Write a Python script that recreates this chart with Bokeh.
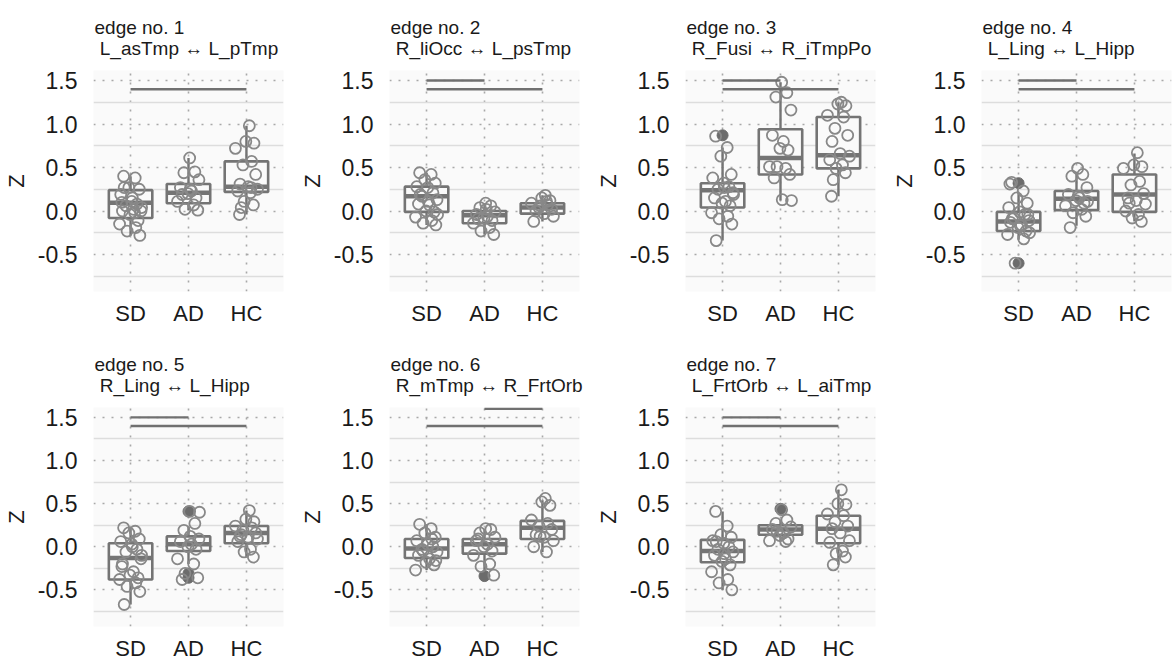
from bokeh.plotting import figure
from bokeh.models import ColumnDataSource, FixedTicker, NumeralTickFormatter, Range1d
from bokeh.layouts import column, row
from bokeh.embed import file_html
from bokeh.resources import INLINE

GROUPS = ["SD", "AD", "HC"]
TITLES = [
    ("edge no. 1", "L_asTmp \u2194 L_pTmp"),
    ("edge no. 2", "R_liOcc \u2194 L_psTmp"),
    ("edge no. 3", "R_Fusi \u2194 R_iTmpPo"),
    ("edge no. 4", "L_Ling \u2194 L_Hipp"),
    ("edge no. 5", "R_Ling \u2194 L_Hipp"),
    ("edge no. 6", "R_mTmp \u2194 R_FrtOrb"),
    ("edge no. 7", "L_FrtOrb \u2194 L_aiTmp"),
]
Y_TICKS = [-0.5, 0.0, 0.5, 1.0, 1.5]
Y_MINOR = [-0.75, -0.25, 0.25, 0.75, 1.25]

# jittered points per edge and group
PTS_SD = [
    [0.40, 0.38, 0.27, 0.25, 0.19, 0.11, 0.08, 0.06, 0.00, 0.00, 0.02, -0.04, -0.11, -0.15, -0.19, -0.23, -0.28, 0.27, 0.15, 0.04, 0.10, -0.02],
    [0.44, 0.42, 0.36, 0.32, 0.28, 0.27, 0.21, 0.17, 0.13, 0.08, 0.07, 0.00, -0.01, -0.07, -0.11, -0.14, -0.16, 0.19, 0.11, -0.04],
    [0.86, 0.73, 0.63, 0.42, 0.38, 0.32, 0.28, 0.25, 0.21, 0.15, 0.11, 0.09, 0.06, -0.02, -0.06, -0.09, -0.15, -0.34, 0.27, 0.19],
    [0.33, 0.23, 0.15, 0.09, 0.04, -0.01, -0.04, -0.08, -0.11, -0.13, -0.16, -0.19, -0.23, -0.27, -0.32, -0.60, -0.04, -0.09, -0.17, -0.25, 0.31],
    [0.22, 0.18, 0.16, 0.09, 0.06, 0.03, -0.03, -0.06, -0.14, -0.20, -0.29, -0.33, -0.36, -0.38, -0.42, -0.46, -0.52, -0.67, 0.00, -0.10, -0.23],
    [0.26, 0.21, 0.16, 0.11, 0.07, 0.03, 0.00, -0.03, -0.06, -0.10, -0.14, -0.18, -0.21, -0.27, 0.09, -0.05, -0.16],
    [0.41, 0.24, 0.14, 0.11, 0.07, 0.04, 0.00, -0.03, -0.06, -0.10, -0.14, -0.17, -0.21, -0.29, -0.38, -0.42, -0.50, 0.06, -0.08],
]
PTS_AD = [
    [0.61, 0.45, 0.44, 0.36, 0.27, 0.23, 0.20, 0.15, 0.11, 0.07, 0.02, 0.01, 0.19, 0.25],
    [0.09, 0.06, 0.04, -0.01, -0.04, -0.06, -0.08, -0.11, -0.14, -0.19, -0.23, -0.27, -0.09, 0.02],
    [1.48, 1.36, 1.31, 1.16, 0.87, 0.80, 0.72, 0.70, 0.51, 0.49, 0.51, 0.42, 0.38, 0.13, 0.12],
    [0.49, 0.42, 0.40, 0.27, 0.19, 0.15, 0.12, 0.09, 0.06, 0.02, -0.02, -0.06, -0.19, 0.17, 0.11],
    [0.41, 0.27, 0.19, 0.09, 0.06, 0.03, 0.00, -0.03, -0.14, -0.20, -0.31, -0.36, -0.38, 0.12, 0.40],
    [0.21, 0.20, 0.16, 0.11, 0.07, 0.03, 0.00, -0.05, -0.10, -0.20, -0.23, -0.33, 0.09],
    [0.43, 0.31, 0.27, 0.23, 0.20, 0.16, 0.13, 0.09, 0.07, 0.06, 0.18],
]
PTS_HC = [
    [0.98, 0.80, 0.78, 0.72, 0.57, 0.53, 0.42, 0.31, 0.28, 0.25, 0.23, 0.21, 0.11, 0.07, 0.04, -0.04, 0.27],
    [0.18, 0.15, 0.12, 0.09, 0.07, 0.04, 0.02, 0.00, -0.03, -0.06, -0.12, 0.11, 0.06],
    [1.25, 1.23, 1.21, 1.10, 1.08, 0.95, 0.87, 0.80, 0.66, 0.63, 0.59, 0.53, 0.49, 0.44, 0.36, 0.17],
    [0.67, 0.53, 0.51, 0.49, 0.34, 0.30, 0.20, 0.15, 0.12, 0.08, 0.00, -0.04, -0.08, -0.12, 0.09],
    [0.42, 0.32, 0.29, 0.24, 0.22, 0.19, 0.16, 0.12, 0.11, 0.09, 0.06, -0.03, -0.06, -0.12, 0.14],
    [0.56, 0.52, 0.48, 0.31, 0.27, 0.24, 0.20, 0.14, 0.11, 0.07, 0.00, -0.06, 0.12],
    [0.66, 0.50, 0.49, 0.38, 0.36, 0.29, 0.24, 0.21, 0.16, 0.07, 0.05, -0.05, -0.08, -0.12, -0.21],
]

# box stats: (lower whisker, q1, median, q3, upper whisker)
BOX_SD = [(-0.28, -0.08, 0.095, 0.24, 0.40), (-0.16, -0.01, 0.17, 0.28, 0.44), (-0.34, 0.04, 0.24, 0.32, 0.73),
          (-0.33, -0.23, -0.12, -0.01, 0.21), (-0.67, -0.38, -0.13, 0.04, 0.22), (-0.27, -0.13, -0.02, 0.09, 0.26),
          (-0.50, -0.18, -0.05, 0.08, 0.41)]
BOX_AD = [(0.01, 0.09, 0.21, 0.31, 0.61), (-0.27, -0.14, -0.05, 0.00, 0.09), (0.12, 0.42, 0.61, 0.94, 1.48),
          (-0.17, 0.01, 0.14, 0.23, 0.45), (-0.20, -0.05, 0.03, 0.12, 0.23), (-0.27, -0.08, 0.03, 0.09, 0.21),
          (0.06, 0.14, 0.20, 0.25, 0.31)]
BOX_HC = [(-0.04, 0.22, 0.28, 0.57, 0.98), (-0.12, -0.03, 0.04, 0.09, 0.18), (0.17, 0.49, 0.64, 1.08, 1.25),
          (-0.12, -0.01, 0.19, 0.42, 0.66), (-0.12, 0.04, 0.16, 0.24, 0.42), (-0.06, 0.09, 0.22, 0.30, 0.54),
          (-0.21, 0.04, 0.21, 0.36, 0.66)]

OUT_SD = [[], [], [0.87], [0.32, -0.60], [], [], []]
OUT_AD = [[], [], [], [], [0.41, -0.31, -0.36], [-0.34], [0.44]]
OUT_HC = [[], [], [], [], [], [], []]

# significance bars: (group from, group to, level)
SIG = [
    [("SD", "HC", 1.4)],
    [("SD", "AD", 1.5), ("SD", "HC", 1.4)],
    [("SD", "AD", 1.5), ("SD", "HC", 1.4)],
    [("SD", "AD", 1.5), ("SD", "HC", 1.4)],
    [("SD", "AD", 1.5), ("SD", "HC", 1.4)],
    [("AD", "HC", 1.6), ("SD", "HC", 1.4)],
    [("SD", "AD", 1.5), ("SD", "HC", 1.4)],
]

# hand-typed horizontal jitter offsets (category units)
JITTER = [-0.12, 0.08, -0.03, 0.15, -0.17, 0.02, 0.11, -0.08, 0.18, -0.14, 0.05, -0.01,
          0.13, -0.19, 0.09, -0.06, 0.16, -0.11, 0.03, 0.19, -0.15, 0.07, -0.04, 0.12, -0.09]

FONT = "Liberation Sans"
BOX_COL = "#747474"
PT_COL = "#888888"
BG = "#fafafa"
TXT = "#1a1a1a"
FRAME_W = 190
FRAME_H = 221


def make_panel(i, top_border, bottom_border, right_border):
    p = figure(width=93 + FRAME_W + right_border, height=top_border + FRAME_H + bottom_border,
               x_range=Range1d(0.36, 3.64), y_range=Range1d(-0.925, 1.615),
               output_backend="svg", toolbar_location=None,
               min_border_left=93, min_border_right=right_border,
               min_border_top=top_border, min_border_bottom=bottom_border)
    p.background_fill_color = BG
    p.border_fill_color = "white"
    p.outline_line_color = None

    # title: two lines
    t1, t2 = TITLES[i]
    p.title.text = t1 + "\n\u00a0" + t2
    p.title.align = "left"
    p.title.offset = 1
    p.title.text_font = FONT
    p.title.text_font_size = "19px"
    p.title.text_font_style = "normal"
    p.title.text_color = TXT
    p.title.text_line_height = 1.0
    p.title.standoff = 24

    # axes
    p.xaxis.ticker = FixedTicker(ticks=[1, 2, 3])
    p.xaxis.major_label_overrides = {1: "SD", 2: "AD", 3: "HC"}
    p.yaxis.ticker = FixedTicker(ticks=Y_TICKS, minor_ticks=Y_MINOR)
    p.yaxis.formatter = NumeralTickFormatter(format="0.0")
    p.yaxis.axis_label = "Z"
    for ax in (p.xaxis[0], p.yaxis[0]):
        ax.axis_line_color = None
        ax.major_tick_line_color = None
        ax.minor_tick_line_color = None
        ax.major_label_text_font = FONT
        ax.major_label_text_color = TXT
    p.xaxis.major_label_text_font_size = "22px"
    p.yaxis.major_label_text_font_size = "23px"
    p.xaxis.major_label_standoff = 3
    p.yaxis.major_label_standoff = 10
    p.yaxis.axis_label_text_font = FONT
    p.yaxis.axis_label_text_font_size = "22px"
    p.yaxis.axis_label_text_font_style = "normal"
    p.yaxis.axis_label_text_color = TXT
    p.yaxis.axis_label_standoff = 6

    # grids
    p.xgrid.ticker = FixedTicker(ticks=[1, 2, 3])
    p.xgrid.grid_line_color = "#a8a8a8"
    p.xgrid.grid_line_dash = "2 7"
    p.xgrid.grid_line_width = 1.6
    p.ygrid.ticker = FixedTicker(ticks=Y_TICKS, minor_ticks=Y_MINOR)
    p.ygrid.grid_line_color = "#a8a8a8"
    p.ygrid.grid_line_dash = "2 7"
    p.ygrid.grid_line_width = 1.6
    p.ygrid.minor_grid_line_color = "#dddddd"
    p.ygrid.minor_grid_line_width = 1.3

    boxes = [BOX_SD[i], BOX_AD[i], BOX_HC[i]]
    xs = [1, 2, 3]
    box_src = ColumnDataSource(dict(
        x=xs,
        lo=[b[0] for b in boxes], q1=[b[1] for b in boxes], med=[b[2] for b in boxes],
        q3=[b[3] for b in boxes], hi=[b[4] for b in boxes],
        xl=[x - 0.375 for x in xs], xr=[x + 0.375 for x in xs],
    ))
    p.segment(x0="x", x1="x", y0="q3", y1="hi", source=box_src, line_color=BOX_COL, line_width=2.4)
    p.segment(x0="x", x1="x", y0="q1", y1="lo", source=box_src, line_color=BOX_COL, line_width=2.4)
    p.vbar(x="x", width=0.75, top="q3", bottom="q1", source=box_src,
           fill_color=BG, line_color=BOX_COL, line_width=2.6)
    p.segment(x0="xl", x1="xr", y0="med", y1="med", source=box_src, line_color=BOX_COL, line_width=4.5)

    # outliers
    ox, oy = [], []
    for gi, outs in enumerate([OUT_SD[i], OUT_AD[i], OUT_HC[i]]):
        for v in outs:
            ox.append(gi + 1)
            oy.append(v)
    p.scatter(ox, oy, marker="circle", size=11, fill_color="#6c6c6c", line_color="#6c6c6c")

    # jittered points
    px, py = [], []
    for gi, pts in enumerate([PTS_SD[i], PTS_AD[i], PTS_HC[i]]):
        for k, v in enumerate(pts):
            px.append(gi + 1 + JITTER[(k + 5 * gi) % len(JITTER)])
            py.append(v)
    p.scatter(px, py, marker="circle", size=11, fill_color=None, line_color=PT_COL, line_width=1.8)

    # significance bars
    sx0, sx1, sy = [], [], []
    for g1, g2, lvl in SIG[i]:
        sx0.append(GROUPS.index(g1) + 1)
        sx1.append(GROUPS.index(g2) + 1)
        sy.append(lvl)
    p.segment(x0=sx0, x1=sx1, y0=sy, y1=sy, line_color="#707070", line_width=2.4)
    return p


RIGHT = [13, 13, 13, 1]
top = [make_panel(i, 70, 46, RIGHT[i]) for i in range(4)]
bottom = [make_panel(i, 70, 35, RIGHT[i - 4]) for i in range(4, 7)]
layout = column(row(*top), row(*bottom))

open("out.html", "w").write(file_html(layout, INLINE))
